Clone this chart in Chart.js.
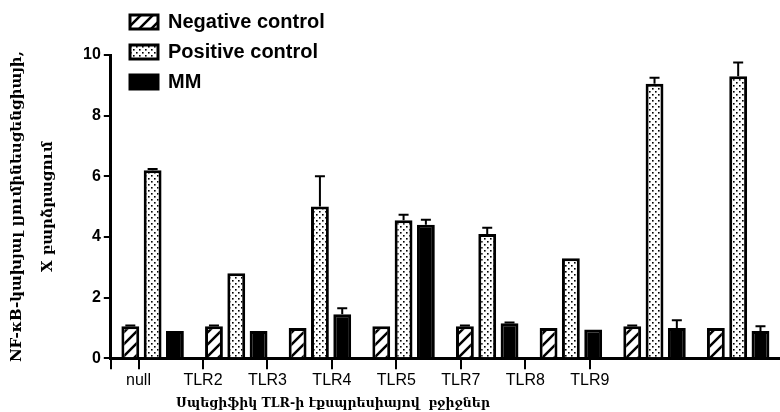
<!DOCTYPE html>
<html>
<head>
<meta charset="utf-8">
<title>NF-kB TLR</title>
<script src="https://cdn.jsdelivr.net/npm/chart.js@4.4.1/dist/chart.umd.min.js"></script>
<style>
    html, body { margin: 0; padding: 0; background: #fff; }
</style>
</head>
<body>
<canvas id="tlrChart" width="780" height="412"></canvas>
<script>
// Данные графика
const categories = ['null', 'TLR2', 'TLR3', 'TLR4', 'TLR5', 'TLR7', 'TLR8', 'TLR9'];
const seriesNames = ['Negative control', 'Positive control', 'MM'];
const negativeValues = [1.05, 1.05, 1.0, 1.05, 1.05, 1.0, 1.05, 1.0];
const positiveValues = [6.2, 2.8, 5.0, 4.55, 4.1, 3.3, 9.05, 9.3];
const mmValues = [0.9, 0.9, 1.45, 4.4, 1.15, 0.95, 1.0, 0.9];
const negativeErrors = [0.03, 0.03, 0, 0, 0.03, 0, 0.03, 0];
const positiveErrors = [0.04, 0, 1.0, 0.18, 0.2, 0, 0.2, 0.45];
const mmErrors = [0, 0, 0.2, 0.17, 0.03, 0, 0.25, 0.15];
const yTicks = [0, 2, 4, 6, 8, 10];
const yTitle = ['NF-κB-կախյալ լյումինեսցենցիայի,', 'X բարձրացում'];
const xTitle = 'Սպեցիֆիկ TLR-ի էքսպրեսիայով  բջիջներ';

// Подписи оси X в оригинале сдвинуты относительно групп столбцов
const labelAxisMin = -0.43;
const labelAxisMax = 9.95;

Chart.defaults.font.family = "'Liberation Sans', Arial, sans-serif";
Chart.defaults.color = '#000';

// Штриховка
function makeHatch() {
    const c = document.createElement('canvas');
    c.width = 12;
    c.height = 12;
    const g = c.getContext('2d');
    g.fillStyle = '#fff';
    g.fillRect(0, 0, 12, 12);
    g.strokeStyle = '#000';
    g.lineWidth = 2.5;
    g.beginPath();
    g.moveTo(0, 12); g.lineTo(12, 0);
    g.moveTo(-6, 6); g.lineTo(6, -6);
    g.moveTo(6, 18); g.lineTo(18, 6);
    g.stroke();
    return g.createPattern(c, 'repeat');
}

// Точки
function makeDots() {
    const c = document.createElement('canvas');
    c.width = 6;
    c.height = 6;
    const g = c.getContext('2d');
    g.fillStyle = '#fff';
    g.fillRect(0, 0, 6, 6);
    g.fillStyle = '#000';
    g.fillRect(1, 1, 1.6, 1.6);
    g.fillRect(4, 4, 1.6, 1.6);
    return g.createPattern(c, 'repeat');
}

// Планки погрешностей
const errorBarsPlugin = {
    id: 'errorBars',
    afterDatasetsDraw(chart) {
        const ctx = chart.ctx;
        const yScale = chart.scales.y;
        ctx.save();
        ctx.strokeStyle = '#000';
        ctx.lineWidth = 2;
        chart.data.datasets.forEach((ds, i) => {
            const meta = chart.getDatasetMeta(i);
            meta.data.forEach((bar, j) => {
                const err = ds.errors[j];
                if (!err) return;
                const top = yScale.getPixelForValue(ds.data[j] + err);
                ctx.beginPath();
                ctx.moveTo(bar.x, bar.y);
                ctx.lineTo(bar.x, top);
                ctx.moveTo(bar.x - 5, top);
                ctx.lineTo(bar.x + 5, top);
                ctx.stroke();
            });
        });
        ctx.restore();
    }
};

// Легенда над областью графика, подпись оси X левее центра (как в оригинале)
const placePlugin = {
    id: 'place',
    afterLayout(chart) {
        const lg = chart.legend;
        const w = lg.width, h = lg.height;
        lg.left = 120;
        lg.right = lg.left + w;
        lg.top = 2;
        lg.bottom = lg.top + h;

        const tb = chart.titleBlock;
        tb.left = 176;
        tb.right = 490;
    }
};

const ctx = document.getElementById('tlrChart').getContext('2d');
const chart = new Chart(ctx, {
    type: 'bar',
    data: {
        labels: categories,
        datasets: [
            {
                label: seriesNames[0],
                data: negativeValues,
                errors: negativeErrors,
                backgroundColor: makeHatch(),
                borderColor: '#000',
                borderWidth: 3
            },
            {
                label: seriesNames[1],
                data: positiveValues,
                errors: positiveErrors,
                backgroundColor: makeDots(),
                borderColor: '#000',
                borderWidth: 3
            },
            {
                label: seriesNames[2],
                data: mmValues,
                errors: mmErrors,
                backgroundColor: '#000',
                borderColor: '#000',
                borderWidth: 3
            }
        ]
    },
    options: {
        responsive: false,
        animation: false,
        datasets: {
            bar: { barPercentage: 0.8, categoryPercentage: 0.8 }
        },
        layout: {
            padding: { left: 0, top: 55, right: 0, bottom: 1 }
        },
        plugins: {
            tooltip: { enabled: false },
            title: {
                display: true,
                position: 'bottom',
                align: 'center',
                text: xTitle,
                color: '#000',
                padding: { top: 3, bottom: 0 },
                font: { family: "'DejaVu Serif', serif", size: 13, weight: 'bold' }
            },
            legend: {
                position: 'chartArea',
                align: 'start',
                labels: {
                    boxWidth: 28,
                    boxHeight: 14,
                    padding: 10,
                    font: { size: 20, weight: 'bold' },
                    color: '#000'
                }
            }
        },
        scales: {
            x: {
                display: false
            },
            xl: {
                type: 'linear',
                position: 'bottom',
                offset: false,
                min: labelAxisMin,
                max: labelAxisMax,
                afterBuildTicks: axis => {
                    axis.ticks = [{ value: labelAxisMin }].concat(categories.map((c, i) => ({ value: i })));
                },
                border: { display: true, color: '#000', width: 3 },
                grid: {
                    display: true,
                    offset: false,
                    drawOnChartArea: false,
                    drawTicks: true,
                    tickLength: 11,
                    tickColor: '#000',
                    tickWidth: 2,
                    color: '#000',
                    lineWidth: 2
                },
                ticks: {
                    autoSkip: false,
                    maxRotation: 0,
                    padding: 2,
                    color: '#000',
                    font: { size: 16 },
                    callback: v => (Number.isInteger(v) ? categories[v] : '')
                }
            },
            y: {
                min: 0,
                max: 10,
                afterBuildTicks: axis => {
                    axis.ticks = yTicks.map(v => ({ value: v }));
                },
                border: { display: true, color: '#000', width: 3 },
                grid: {
                    display: true,
                    drawOnChartArea: false,
                    drawTicks: true,
                    tickLength: 7,
                    color: '#000',
                    lineWidth: 2
                },
                ticks: {
                    padding: 3,
                    color: '#000',
                    font: { size: 16, weight: 'bold' }
                },
                title: {
                    display: true,
                    text: yTitle,
                    color: '#000',
                    padding: { top: 1, bottom: 16 },
                    font: { family: "'DejaVu Serif', serif", size: 15, weight: 'bold', lineHeight: 2.1 }
                }
            }
        }
    },
    plugins: [errorBarsPlugin, placePlugin]
});
</script>
</body>
</html>
